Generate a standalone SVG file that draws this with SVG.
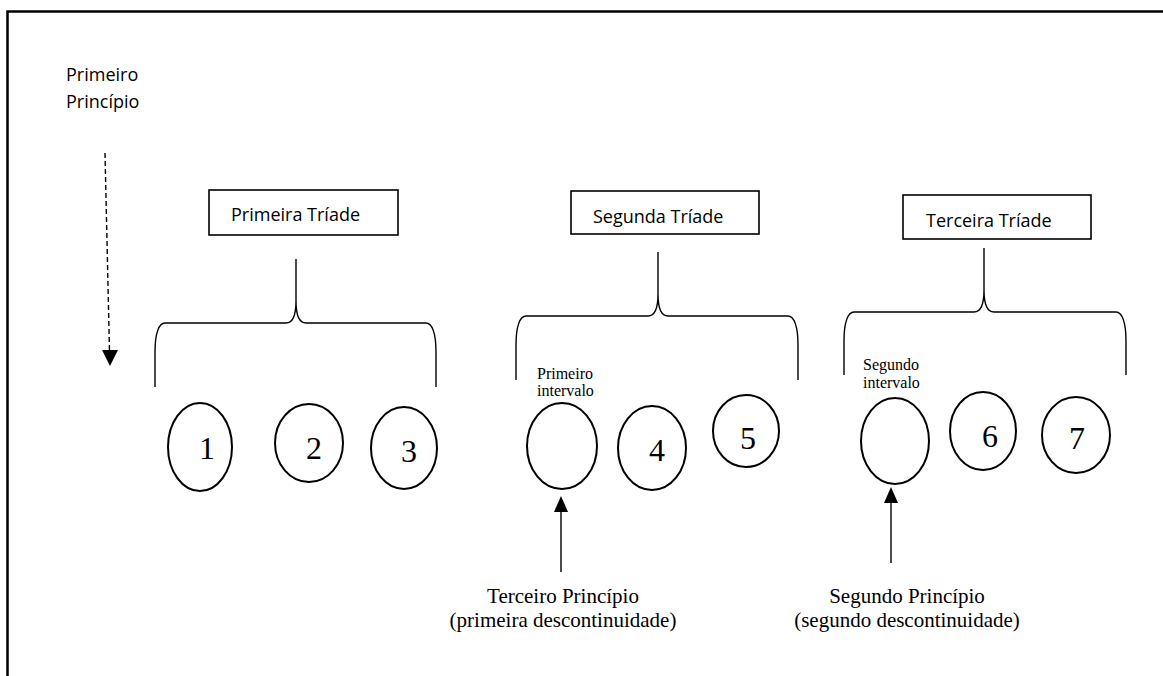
<svg xmlns="http://www.w3.org/2000/svg" width="1163" height="676" viewBox="0 0 1163 676">
<style>
.sans{font-family:"Open Sans","Liberation Sans",sans-serif;font-size:18px;fill:#000}
.serif{font-family:"Liberation Serif","Times New Roman",serif;fill:#000}
.num{font-size:32px;text-anchor:middle}
.small{font-size:16px}
.big{font-size:21px;text-anchor:middle}
.box{fill:#fff;stroke:#000;stroke-width:1.6}
.ell{fill:none;stroke:#000;stroke-width:2}
.brace{fill:none;stroke:#000;stroke-width:1.4}
.arrow{stroke:#000;stroke-width:1.4;fill:none}
</style>
<rect width="1163" height="676" fill="#fff"/>
<path d="M7.5,680 V11.5 H1170" fill="none" stroke="#000" stroke-width="2.5"/>

<g id="label-primeiro-principio">
<text class="sans" x="66" y="81">Primeiro</text>
<text class="sans" x="66" y="108">Princípio</text>
</g>

<g id="primeira-triade">
<rect class="box" x="209" y="190" width="189" height="45"/>
<text class="sans" x="231" y="221">Primeira Tríade</text>
</g>
<g id="segunda-triade">
<rect class="box" x="571" y="191" width="188" height="43"/>
<text class="sans" x="593" y="223">Segunda Tríade</text>
</g>
<g id="terceira-triade">
<rect class="box" x="903" y="195" width="188" height="44"/>
<text class="sans" x="926" y="227">Terceira Tríade</text>
</g>

<g id="braces">
<path class="brace" d="M296,259 V301 C296,316 293,323 286,323 H165 C159,323 155,333 155,352 V387 M296,301 C296,316 299,323 306,323 H426 C432,323 436,333 436,352 V387"/>
<path class="brace" d="M658,252 V294 C658,309 655,316 648,316 H526 C520,316 516,326 516,345 V380 M658,294 C658,309 661,316 668,316 H788 C794,316 798,326 798,345 V380"/>
<path class="brace" d="M984,248 V290 C984,305 981,312 974,312 H854 C848,312 844,322 844,341 V375 M984,290 C984,305 987,312 994,312 H1116 C1122,312 1126,322 1126,341 V375"/>
</g>

<g id="node-1"><ellipse class="ell" cx="200" cy="447" rx="32" ry="44"/><text class="serif num" x="207" y="459">1</text></g>
<g id="node-2"><ellipse class="ell" cx="309" cy="443" rx="34" ry="39"/><text class="serif num" x="314" y="459">2</text></g>
<g id="node-3"><ellipse class="ell" cx="404" cy="448" rx="33" ry="41"/><text class="serif num" x="409" y="462">3</text></g>

<g id="primeiro-intervalo">
<text class="serif small" x="537" y="379">Primeiro</text>
<text class="serif small" x="537" y="396">intervalo</text>
<ellipse class="ell" cx="562" cy="446" rx="35" ry="43"/>
</g>
<g id="node-4"><ellipse class="ell" cx="652" cy="448" rx="34" ry="42"/><text class="serif num" x="657" y="461">4</text></g>
<g id="node-5"><ellipse class="ell" cx="746" cy="431" rx="33" ry="36"/><text class="serif num" x="748" y="449">5</text></g>

<g id="segundo-intervalo">
<text class="serif small" x="863" y="370">Segundo</text>
<text class="serif small" x="863" y="388">intervalo</text>
<ellipse class="ell" cx="895" cy="441" rx="34" ry="43"/>
</g>
<g id="node-6"><ellipse class="ell" cx="983" cy="431" rx="33" ry="39"/><text class="serif num" x="990" y="447">6</text></g>
<g id="node-7"><ellipse class="ell" cx="1076" cy="435" rx="34" ry="38"/><text class="serif num" x="1077" y="449">7</text></g>

<g id="terceiro-principio">
<text class="serif big" x="563" y="603">Terceiro Princípio</text>
<text class="serif big" x="563" y="627">(primeira descontinuidade)</text>
</g>
<g id="segundo-principio">
<text class="serif big" x="907" y="603">Segundo Princípio</text>
<text class="serif big" x="907" y="627">(segundo descontinuidade)</text>
</g>

<g id="connectors">
<line class="arrow" x1="105" y1="153" x2="109.6" y2="356" stroke-dasharray="5,3" stroke-width="1.3"/>
<path d="M102,350 L118,350 L110,366 Z" fill="#000"/>
<line class="arrow" x1="561" y1="572" x2="561" y2="508"/>
<path d="M554,512 L568,512 L561,496 Z" fill="#000"/>
<line class="arrow" x1="891" y1="563" x2="891" y2="499"/>
<path d="M884,503 L898,503 L891,487 Z" fill="#000"/>
</g>
</svg>
